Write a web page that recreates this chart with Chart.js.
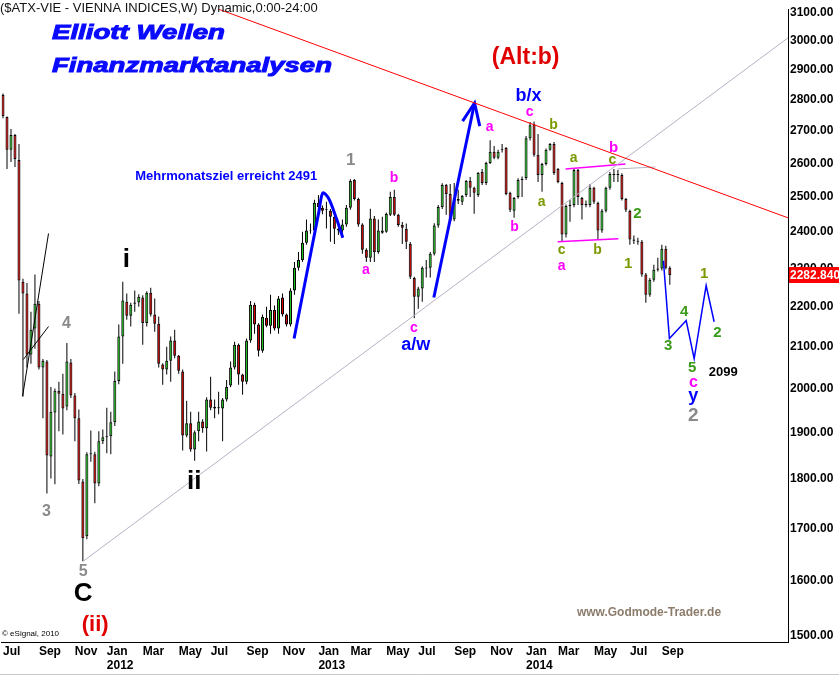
<!DOCTYPE html>
<html>
<head>
<meta charset="utf-8">
<script src="https://cdn.jsdelivr.net/npm/chart.js@4.4.1/dist/chart.umd.min.js"></script>
<style>
  html, body { margin: 0; padding: 0; background: #fff; }
  #wrap { width: 839px; height: 676px; position: relative; }
</style>
</head>
<body>
<div id="wrap"><canvas id="chart"></canvas></div>
<script>
// weekly ATX candles, first bar = week of 4 Jul 2011
const opens = [2815,2744,2641,2687,2610,2265,2234,2081,2145,2208,2050,2064,1848,1945,1995,1988,1959,2062,1984,1932,
  1795,1684,1853,1853,1791,1881,1890,1892,1923,2018,2125,2213,2177,2208,2211,2224,2159,2236,2180,2157,
  2057,2045,2066,2115,2078,2040,1894,1921,1863,1903,1925,1910,1975,1958,1955,1954,1975,2007,2050,2105,
  2033,2016,2115,2205,2155,2090,2172,2152,2192,2145,2224,2180,2155,2242,2302,2323,2370,2404,2404,2483,
  2469,2463,2460,2443,2409,2404,2421,2469,2550,2494,2421,2351,2329,2438,2345,2398,2401,2449,2500,2449,
  2420,2409,2367,2275,2226,2247,2300,2302,2340,2418,2471,2535,2509,2435,2494,2486,2506,2547,2527,2506,
  2574,2541,2601,2635,2617,2641,2647,2512,2460,2500,2550,2556,2677,2721,2626,2565,2598,2641,2659,2583,
  2541,2393,2474,2477,2580,2497,2477,2477,2527,2483,2404,2460,2527,2568,2565,2565,2494,2460,2379,2376,
  2373,2284,2231,2270,2297,2300,2354,2302];
const highs = [2820,2746,2706,2690,2659,2273,2262,2187,2284,2215,2070,2068,2004,2000,2016,2035,2109,2070,1990,1952,
  1800,1857,1905,1858,1903,1907,1956,1947,2040,2155,2265,2234,2210,2242,2232,2230,2240,2249,2221,2175,
  2060,2100,2125,2142,2080,2045,1972,1947,1905,1947,1930,1980,2028,1975,1993,1978,2020,2064,2112,2108,
  2035,2120,2215,2210,2158,2180,2200,2231,2203,2228,2234,2183,2248,2318,2345,2401,2435,2424,2492,2506,
  2475,2486,2465,2448,2412,2435,2477,2552,2553,2498,2425,2355,2466,2445,2435,2443,2455,2515,2521,2452,
  2428,2424,2372,2278,2252,2306,2323,2345,2425,2477,2540,2538,2538,2541,2521,2506,2550,2559,2530,2574,
  2583,2605,2671,2653,2641,2659,2650,2515,2500,2555,2560,2684,2728,2730,2690,2602,2645,2662,2665,2586,
  2545,2478,2492,2583,2583,2500,2490,2538,2530,2486,2465,2530,2574,2583,2580,2570,2497,2463,2390,2384,
  2378,2288,2275,2310,2329,2365,2362,2306];
const lows = [2740,2583,2604,2589,2182,1982,2050,2059,2095,2045,1932,1770,1801,1789,1903,1896,1950,1978,1881,1790,
  1636,1678,1837,1750,1785,1875,1855,1853,1915,2010,2059,2167,2150,2187,2200,2105,2150,2175,2137,2050,
  2009,2033,2016,2072,2035,1861,1890,1858,1839,1881,1900,1859,1950,1932,1941,1881,1970,2003,2045,2009,
  1986,2010,2110,2132,2076,2085,2148,2132,2140,2132,2175,2150,2150,2231,2295,2318,2365,2395,2400,2465,
  2450,2410,2373,2367,2392,2398,2415,2463,2490,2415,2340,2318,2318,2318,2340,2395,2398,2445,2445,2415,
  2367,2353,2272,2171,2195,2213,2276,2276,2335,2412,2465,2449,2425,2430,2480,2477,2500,2500,2452,2500,
  2535,2535,2598,2612,2612,2633,2505,2457,2440,2495,2500,2550,2670,2620,2544,2515,2593,2638,2565,2540,
  2373,2385,2429,2470,2477,2435,2470,2470,2480,2378,2398,2455,2521,2544,2544,2490,2457,2365,2367,2365,
  2278,2210,2226,2265,2292,2295,2298,2257];
const closes = [2747,2641,2687,2613,2268,2234,2081,2142,2208,2050,2066,1850,1947,1995,1988,1954,2064,1984,1932,1797,
  1680,1853,1855,1791,1881,1890,1892,1923,2018,2125,2216,2177,2205,2211,2226,2159,2236,2180,2157,2059,
  2045,2066,2115,2078,2042,1894,1921,1863,1901,1925,1910,1975,1956,1954,1957,1975,2004,2050,2105,2033,
  2016,2115,2205,2155,2090,2174,2152,2192,2145,2221,2180,2155,2242,2302,2323,2370,2404,2406,2483,2471,
  2460,2465,2443,2409,2404,2421,2469,2547,2494,2421,2351,2329,2438,2345,2404,2404,2451,2500,2449,2420,
  2412,2373,2278,2226,2247,2302,2303,2340,2418,2471,2535,2509,2432,2497,2489,2503,2547,2527,2512,2571,
  2541,2601,2635,2617,2635,2644,2509,2463,2497,2550,2553,2677,2718,2626,2565,2598,2641,2659,2571,2544,
  2393,2474,2477,2580,2500,2477,2480,2527,2486,2404,2460,2527,2568,2565,2568,2494,2463,2379,2376,2373,
  2284,2231,2270,2297,2300,2354,2302,2282.84];

const monthTickWeeks = [0, 9, 18, 26, 35, 44, 52, 61, 70, 79, 87, 96, 104, 113, 122, 131, 139, 148, 157, 165];
const monthTickLabels = ['Jul', 'Sep', 'Nov', ['Jan', '2012'], 'Mar', 'May', 'Jul', 'Sep', 'Nov', ['Jan', '2013'],
  'Mar', 'May', 'Jul', 'Sep', 'Nov', ['Jan', '2014'], 'Mar', 'May', 'Jul', 'Sep'];
const priceTicks = [1500, 1600, 1700, 1800, 1900, 2000, 2100, 2200, 2300, 2400, 2500, 2600, 2700, 2800, 2900, 3000, 3100];

// drawn lines, in (week, price)
const resistLine = [{x: 51.4, y: 3125}, {x: 196.6, y: 2440}];
const supportLine = [{x: 20.1, y: 1636}, {x: 196.6, y: 3009}];
const supportStub = [{x: 153.9, y: 2583}, {x: 163.4, y: 2589}];
const wedgeUpper = [{x: 4.9, y: 1982}, {x: 11.4, y: 2396}];
const wedgeLower = [{x: 5.1, y: 2069}, {x: 11.4, y: 2150}];
const targetCurve = [{x: 72.9, y: 2120}, {x: 79.1, y: 2457}, {x: 80.1, y: 2512}, {x: 81.6, y: 2495}, {x: 83.6, y: 2435}, {x: 85.1, y: 2384}];
const arrowShaft = [{x: 107.9, y: 2224}, {x: 118.1, y: 2789}];
const arrowHead = [{x: 115.1, y: 2731}, {x: 118.1, y: 2789}, {x: 119.4, y: 2715}];
const projection = [{x: 165.4, y: 2321}, {x: 166.9, y: 2120}, {x: 171.1, y: 2165}, {x: 173.1, y: 2071}, {x: 176.1, y: 2255}, {x: 178.1, y: 2162}];
const triTop = [{x: 140.9, y: 2583}, {x: 155.9, y: 2598}];
const triBottom = [{x: 138.9, y: 2373}, {x: 154.1, y: 2381}];

const GREEN = '#3a9a1a', OLIVE = '#7a9a00', MAG = '#ff00ff', BLUE = '#0000ff', GREY = '#8a8a8a';
// [text, week, price, colour, font px]
const waveLabels = [
  ['4', 15.9, 2157, GREY, 16], ['3', 10.9, 1734, GREY, 16], ['5', 20.1, 1617, GREY, 16],
  ['C', 20.1, 1574, '#000', 26], ['(ii)', 23.1, 1519, '#e00000', 22],
  ['i', 30.9, 2323, '#000', 26], ['ii', 47.9, 1795, '#000', 26],
  ['1', 87.1, 2610, GREY, 17], ['b', 97.9, 2556, MAG, 14], ['a', 90.9, 2295, MAG, 14],
  ['c', 102.9, 2147, MAG, 14], ['a/w', 103.4, 2105, BLUE, 18],
  ['a', 121.9, 2712, MAG, 14], ['c', 131.9, 2760, MAG, 14], ['b/x', 131.6, 2812, BLUE, 18],
  ['b', 128.1, 2415, MAG, 14], ['(Alt:b)', 130.9, 2941, '#e00000', 23],
  ['b', 137.9, 2718, OLIVE, 14], ['a', 134.9, 2486, OLIVE, 14], ['a', 142.9, 2616, OLIVE, 14],
  ['c', 139.9, 2351, OLIVE, 14], ['a', 139.9, 2306, MAG, 14], ['b', 148.9, 2351, OLIVE, 14],
  ['c', 152.6, 2610, OLIVE, 14], ['b', 152.9, 2647, MAG, 15],
  ['2', 158.9, 2451, GREEN, 15], ['1', 156.6, 2313, OLIVE, 15],
  ['1', 175.6, 2287, OLIVE, 15], ['4', 170.6, 2187, GREEN, 15], ['2', 178.9, 2134, GREEN, 15],
  ['3', 166.6, 2101, GREEN, 15], ['5', 172.6, 2050, GREEN, 15], ['c', 172.9, 2014, MAG, 16],
  ['y', 172.9, 1982, BLUE, 18], ['2', 172.9, 1938, GREY, 19], ['2099', 180.4, 2038, '#000', 13],
  ['Mehrmonatsziel erreicht 2491', 55.9, 2562, BLUE, 13]
];

const FONT = '"Liberation Sans", Arial, sans-serif';
Chart.defaults.font.family = FONT;
Chart.defaults.color = '#000';

const weeks = closes.map((c, i) => i);
const bodies = weeks.map(i => ({x: i, y: [Math.min(opens[i], closes[i]), Math.max(opens[i], closes[i]) + (opens[i] === closes[i] ? 1 : 0)]}));
const wicks = weeks.map(i => ({x: i, y: [lows[i], highs[i]]}));
const bodyColors = weeks.map(i => closes[i] >= opens[i] ? '#22c822' : '#dd0000');

const lineSet = (data, color, width, extra) => Object.assign({
  type: 'line', data, borderColor: color, borderWidth: width, pointRadius: 0,
  fill: false, tension: 0, order: 0
}, extra || {});

function fitText(ctx, text, x, y, w) {
  const nat = ctx.measureText(text).width;
  ctx.save();
  ctx.translate(x, y);
  ctx.scale(w / nat, 1);
  ctx.fillText(text, 0, 0);
  ctx.strokeText(text, 0, 0);
  ctx.restore();
}

const overlay = {
  id: 'overlay',
  afterDatasetsDraw(chart) {
    const {ctx, scales: {x, y}} = chart;
    ctx.save();
    ctx.textAlign = 'center';
    ctx.textBaseline = 'middle';
    waveLabels.forEach(([t, w, p, col, size]) => {
      ctx.font = `bold ${size}px ${FONT}`;
      ctx.fillStyle = col;
      ctx.fillText(t, x.getPixelForValue(w), y.getPixelForValue(p));
    });

    // header
    ctx.textAlign = 'left';
    ctx.font = `13px ${FONT}`;
    ctx.fillStyle = '#111';
    ctx.fillText('($ATX-VIE - VIENNA INDICES,W) Dynamic,0:00-24:00', 0, 8);
    ctx.font = `bold italic 21px ${FONT}`;
    ctx.fillStyle = '#0a0aff';
    ctx.strokeStyle = '#0a0aff';
    ctx.lineWidth = 1;
    ctx.textBaseline = 'alphabetic';
    fitText(ctx, 'Elliott Wellen', 52, 39, 173);
    fitText(ctx, 'Finanzmarktanalysen', 52, 72, 280);

    ctx.font = `bold 12px ${FONT}`;
    ctx.fillStyle = '#8c7c6c';
    ctx.textAlign = 'center';
    ctx.textBaseline = 'middle';
    ctx.fillText('www.Godmode-Trader.de', 649, 613);
    ctx.font = `8px ${FONT}`;
    ctx.fillStyle = '#000';
    ctx.textAlign = 'left';
    ctx.fillText('\u00a9 eSignal, 2010', 2, 634);
    ctx.restore();
  },
  afterDraw(chart) {
    const {ctx, scales: {y}} = chart;
    const last = closes[closes.length - 1];
    const py = Math.round(y.getPixelForValue(last));
    ctx.save();
    ctx.fillStyle = '#ff0000';
    ctx.fillRect(y.left + 1, py - 8, chart.width - y.left - 1, 16);
    ctx.fillStyle = '#fff';
    ctx.font = `bold 12px ${FONT}`;
    ctx.textBaseline = 'middle';
    ctx.fillText(last.toFixed(3), y.left + 2, py + 1);
    ctx.strokeStyle = '#c8c8c8';
    ctx.beginPath();
    ctx.moveTo(0, chart.height - 1.5);
    ctx.lineTo(chart.width, chart.height - 1.5);
    ctx.stroke();
    ctx.restore();
  }
};

new Chart(document.getElementById('chart'), {
  type: 'bar',
  data: {
    datasets: [
      lineSet(resistLine, '#ff0000', 1),
      lineSet(supportLine, '#b8b0c4', 1),
      lineSet(supportStub, '#b8b0c4', 1),
      lineSet(wedgeUpper, '#000', 1),
      lineSet(wedgeLower, '#000', 1),
      lineSet(targetCurve, BLUE, 3, {tension: 0.3}),
      lineSet(arrowShaft, BLUE, 3),
      lineSet(arrowHead, BLUE, 3),
      lineSet(projection, BLUE, 1.5),
      lineSet(triTop, MAG, 1.5),
      lineSet(triBottom, MAG, 1.5),
      {
        data: bodies, backgroundColor: bodyColors, borderColor: '#000', borderWidth: 1,
        borderSkipped: false, barThickness: 3, grouped: false, inflateAmount: 0, order: 1
      },
      {
        data: wicks, backgroundColor: '#000', borderWidth: 0,
        barThickness: 1, grouped: false, inflateAmount: 0, order: 2
      }
    ]
  },
  options: {
    responsive: true,
    maintainAspectRatio: false,
    animation: false,
    layout: {padding: 0},
    plugins: {legend: {display: false}, tooltip: {enabled: false}},
    scales: {
      x: {
        type: 'linear', min: -0.375, max: 196.6, offset: false,
        grid: {display: false, drawTicks: false},
        border: {display: true, color: '#000', width: 1},
        afterBuildTicks: s => { s.ticks = monthTickWeeks.map(v => ({value: v})); },
        afterFit: s => { s.height = 34; },
        ticks: {
          autoSkip: false, maxRotation: 0, align: 'start', padding: 3,
          font: {size: 12, weight: 'bold', lineHeight: 1.15}, color: '#000',
          callback: v => monthTickLabels[monthTickWeeks.indexOf(v)]
        }
      },
      y: {
        type: 'logarithmic', position: 'right', min: 1489, max: 3111,
        grid: {display: false, drawTicks: false},
        border: {display: true, color: '#000', width: 1},
        afterBuildTicks: s => { s.ticks = priceTicks.map(v => ({value: v})); },
        afterFit: s => { s.width = 51; },
        ticks: {
          autoSkip: false, padding: 2, font: {size: 12, weight: 'bold'}, color: '#000',
          callback: v => Number(v).toFixed(2)
        }
      }
    }
  },
  plugins: [overlay]
});
</script>
</body>
</html>
